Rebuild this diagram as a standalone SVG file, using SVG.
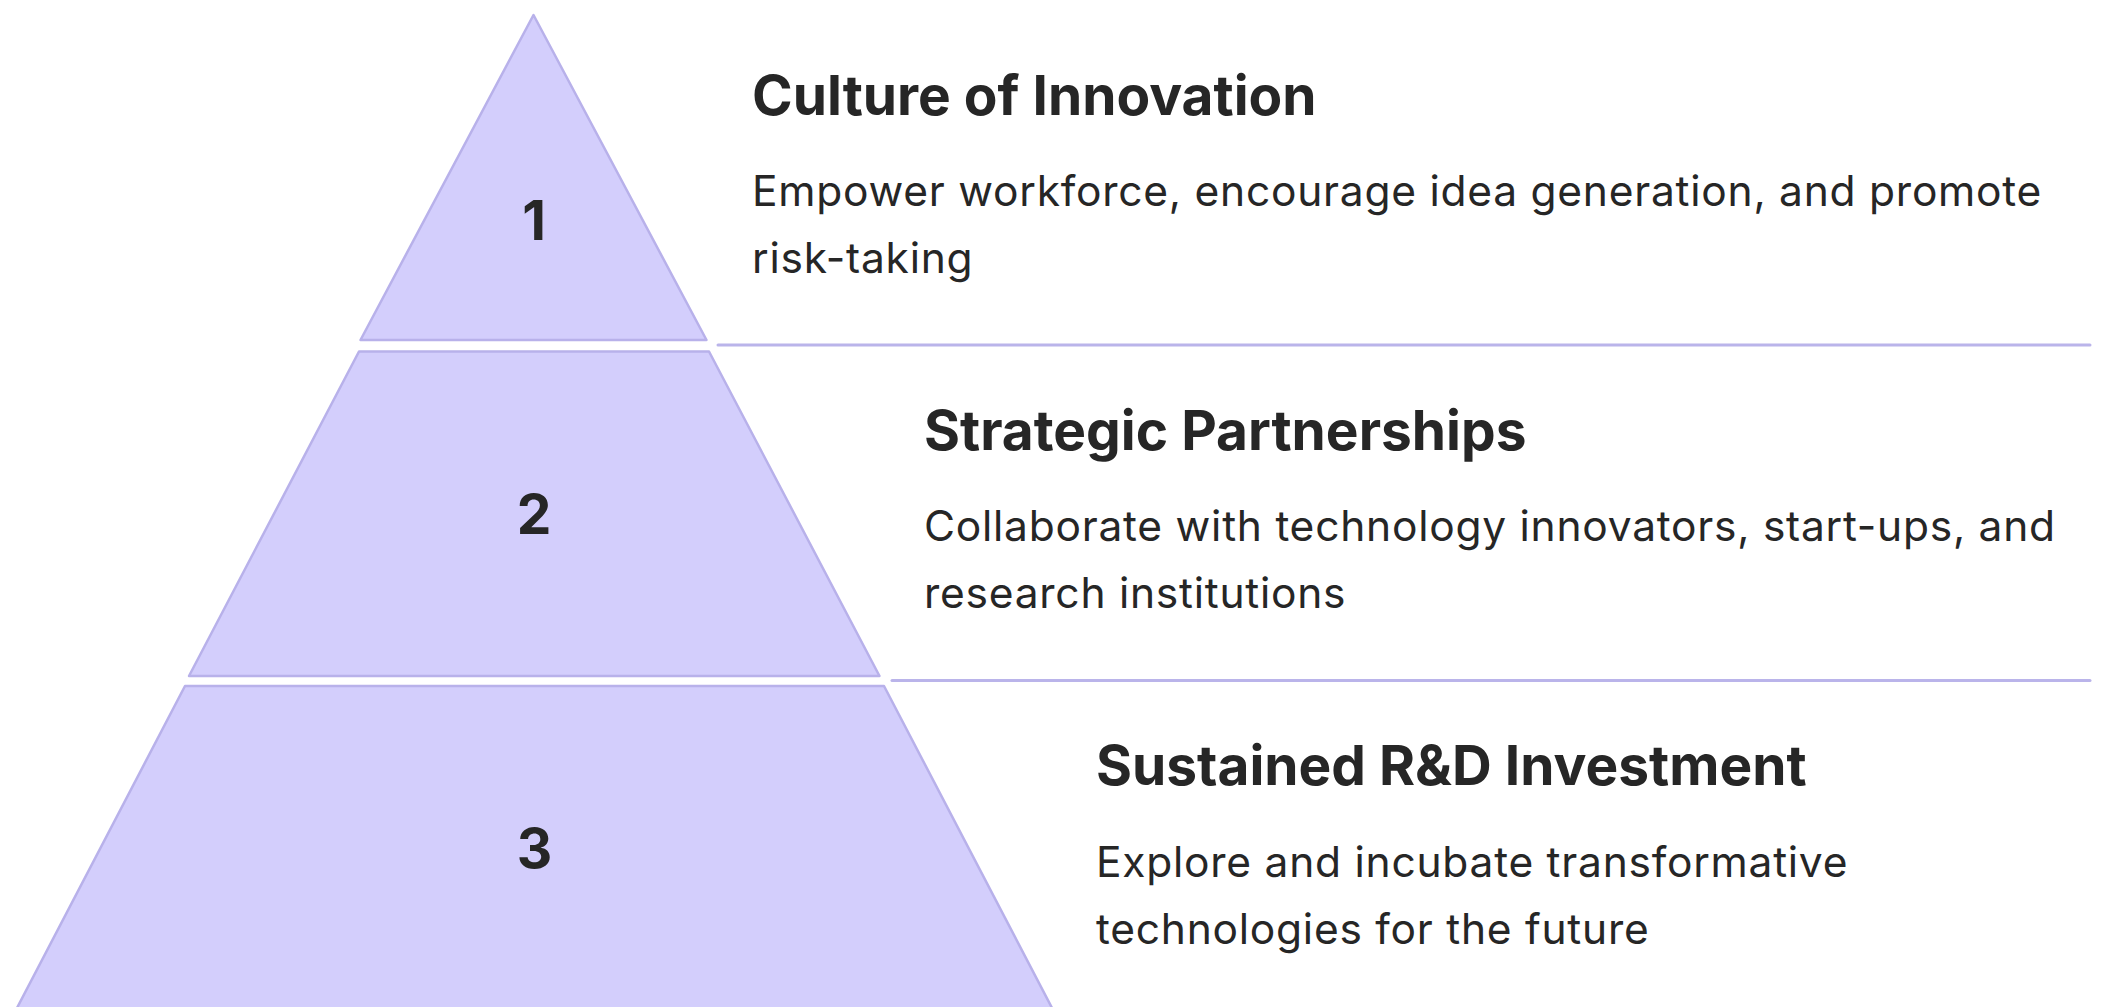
<svg xmlns="http://www.w3.org/2000/svg" width="2104" height="1007" viewBox="0 0 2104 1007">
  <style>
    .tier { fill: #d3cefc; stroke: #b8b1ea; stroke-width: 2.5; stroke-linejoin: round; }
    .rule { stroke: #bab4ea; stroke-width: 3; stroke-linecap: round; fill: none; }
    .num { font-family: Inter, "Liberation Sans", sans-serif; font-weight: 700; font-size: 55px; fill: #262626; text-anchor: middle; }
    .title { font-family: Inter, "Liberation Sans", sans-serif; font-weight: 700; font-size: 55px; fill: #262626; }
    .body { font-family: Inter, "Liberation Sans", sans-serif; font-weight: 400; font-size: 42.5px; letter-spacing: 0.75px; fill: #262626; }
  </style>
  <rect width="2104" height="1007" fill="#ffffff"/>

  <!-- pyramid tiers -->
  <g id="tier-1">
    <polygon class="tier" points="533.5,15 706.5,340 360.5,340"/>
    <text class="num" x="534" y="240">1</text>
  </g>
  <g id="tier-2">
    <polygon class="tier" points="359,351.5 709,351.5 879.5,676 189,676"/>
    <text class="num" x="534" y="534">2</text>
  </g>
  <g id="tier-3">
    <polygon class="tier" points="185,686 884,686 1053.6,1011 15.4,1011"/>
    <text class="num" x="534.5" y="868">3</text>
  </g>

  <!-- separators between the descriptions -->
  <g id="connectors">
    <line class="rule" x1="718" y1="345" x2="2090" y2="345"/>
    <line class="rule" x1="892" y1="680.5" x2="2090" y2="680.5"/>
  </g>

  <!-- descriptions -->
  <g id="label-1">
    <text class="title" x="752" y="115">Culture of Innovation</text>
    <text class="body" x="752" y="205.5">Empower workforce, encourage idea generation, and promote</text>
    <text class="body" x="752" y="273">risk-taking</text>
  </g>
  <g id="label-2">
    <text class="title" x="924" y="450">Strategic Partnerships</text>
    <text class="body" x="924" y="540.5">Collaborate with technology innovators, start-ups, and</text>
    <text class="body" x="924" y="608">research institutions</text>
  </g>
  <g id="label-3">
    <text class="title" x="1096" y="785">Sustained R&amp;D Investment</text>
    <text class="body" x="1096" y="876.5">Explore and incubate transformative</text>
    <text class="body" x="1096" y="944">technologies for the future</text>
  </g>
</svg>
